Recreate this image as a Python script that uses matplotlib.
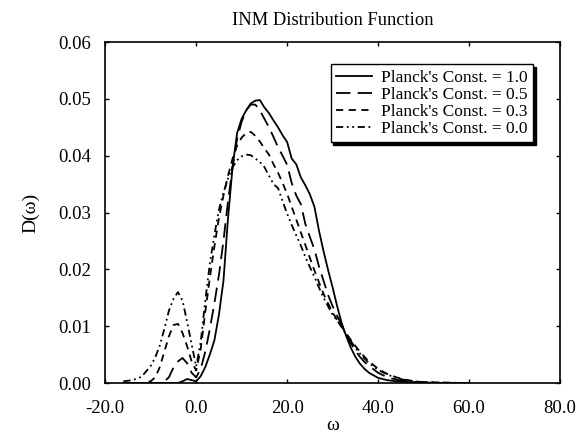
import matplotlib
matplotlib.use("Agg")
import matplotlib.pyplot as plt

omega = [-16, -14, -12, -10, -9, -8, -7, -6, -5, -4, -3, -2, -1, 0, 1, 2, 3, 4, 5,
         6, 7, 8, 9, 10, 11, 12, 13, 14, 15, 16, 17, 18, 19, 20, 21, 22, 23, 24,
         25, 26, 27, 28, 29, 30, 31, 32, 33, 34, 35, 36, 37, 38, 40, 42, 44, 46,
         48, 50, 55, 60]

d_h10 = [0, 0, 0, 0, 0, 0, 0, 0, 0, 0, 0.0003, 0.0007, 0.0005, 0.0003, 0.0012,
         0.0028, 0.005, 0.0075, 0.012, 0.018, 0.029, 0.038, 0.044, 0.0465, 0.048,
         0.0492, 0.0497, 0.0498, 0.0485, 0.0475, 0.0462, 0.045, 0.0436, 0.0424,
         0.0395, 0.0385, 0.0362, 0.0348, 0.0332, 0.031, 0.0268, 0.0232, 0.0199,
         0.0168, 0.0135, 0.0105, 0.0082, 0.0062, 0.0046, 0.0034, 0.0025, 0.0018,
         0.0009, 0.0005, 0.0003, 0.0002, 0.0001, 0.00005, 0, 0]

d_h05 = [0, 0, 0, 0, 0, 0, 0.0003, 0.001, 0.0027, 0.0038, 0.0044, 0.0035, 0.0018,
         0.001, 0.0025, 0.0055, 0.0095, 0.014, 0.019, 0.025, 0.032, 0.038, 0.043,
         0.046, 0.048, 0.049, 0.049, 0.048, 0.0465, 0.045, 0.0433, 0.0415, 0.04,
         0.0384, 0.0352, 0.033, 0.0315, 0.028, 0.0257, 0.0235, 0.0205, 0.018,
         0.0155, 0.0135, 0.0118, 0.0102, 0.0085, 0.007, 0.0057, 0.0046, 0.0037,
         0.003, 0.0018, 0.001, 0.0006, 0.0003, 0.00015, 0.0001, 0, 0]

d_h03 = [0, 0, 0, 0.0003, 0.001, 0.0028, 0.0055, 0.0082, 0.0102, 0.0104, 0.0088,
         0.0065, 0.0038, 0.0022, 0.006, 0.0125, 0.0185, 0.024, 0.029, 0.033,
         0.0365, 0.0395, 0.0418, 0.0432, 0.044, 0.0442, 0.0435, 0.0425, 0.0413,
         0.0402, 0.0385, 0.037, 0.0352, 0.0333, 0.031, 0.0288, 0.0265, 0.0243,
         0.022, 0.0198, 0.0177, 0.0157, 0.014, 0.0124, 0.0111, 0.0099, 0.0087,
         0.0076, 0.0065, 0.0055, 0.0046, 0.0038, 0.0025, 0.0016, 0.001, 0.0006,
         0.0003, 0.00015, 0.00005, 0]

d_h00 = [0.0003, 0.0005, 0.0011, 0.003, 0.0045, 0.0066, 0.0095, 0.0127, 0.0148,
         0.016, 0.0145, 0.0108, 0.0068, 0.0029, 0.0072, 0.0145, 0.021, 0.026,
         0.0305, 0.0335, 0.036, 0.038, 0.0392, 0.0399, 0.0402, 0.0401, 0.0395,
         0.0389, 0.038, 0.0365, 0.035, 0.0343, 0.032, 0.0298, 0.0278, 0.026,
         0.0242, 0.0222, 0.0204, 0.0187, 0.0168, 0.015, 0.0135, 0.012, 0.011,
         0.0098, 0.0085, 0.0074, 0.0062, 0.0052, 0.0043, 0.0035, 0.0023, 0.0015,
         0.0009, 0.0005, 0.0003, 0.00015, 0.00005, 0]

labels = ["Planck's Const. = 1.0", "Planck's Const. = 0.5",
          "Planck's Const. = 0.3", "Planck's Const. = 0.0"]
xticks = [-20, 0, 20, 40, 60, 80]
yticks = [0.00, 0.01, 0.02, 0.03, 0.04, 0.05, 0.06]

plt.rcParams['font.family'] = ['Liberation Serif', 'DejaVu Serif']

fig = plt.figure(figsize=(5.78, 4.34), dpi=100)
ax = fig.add_axes([0.182, 0.1175, 0.787, 0.7855])

lw = 1.3
ax.plot(omega, d_h10, color='black', lw=lw, linestyle='-', label=labels[0])
ax.plot(omega, d_h05, color='black', lw=lw, linestyle=(0, (8, 4)), label=labels[1])
ax.plot(omega, d_h03, color='black', lw=lw, linestyle=(0, (4, 3)), label=labels[2])
ax.plot(omega, d_h00, color='black', lw=lw, linestyle=(0, (4, 2, 1, 2, 1, 2)), label=labels[3])

ax.set_xlim(-20, 80)
ax.set_ylim(0, 0.06)
ax.set_xticks(xticks)
ax.set_xticklabels([f"{v:.1f}" for v in xticks])
ax.set_yticks(yticks)
ax.set_yticklabels([f"{v:.2f}" for v in yticks])
ax.tick_params(direction='in', top=True, right=True, length=3, width=1,
               labelsize=13.5)
ax.tick_params(axis='x', pad=12)
ax.tick_params(axis='y', pad=10)
for s in ax.spines.values():
    s.set_linewidth(1.2)

ax.set_title("INM Distribution Function", fontsize=13.3, pad=12)
ax.set_xlabel("ω", fontsize=14, labelpad=0)
ax.set_ylabel("D(ω)", fontsize=14, labelpad=14)

leg = ax.legend(loc='upper right', bbox_to_anchor=(0.94, 0.935), borderaxespad=0,
                fontsize=12.5, handlelength=2.1, handletextpad=0.5,
                labelspacing=0.05, borderpad=0.3, fancybox=False,
                shadow={'color': 'black', 'alpha': 1})
leg.get_frame().set_edgecolor('black')
leg.get_frame().set_linewidth(1.0)

fig.savefig("out.png", dpi=100)
